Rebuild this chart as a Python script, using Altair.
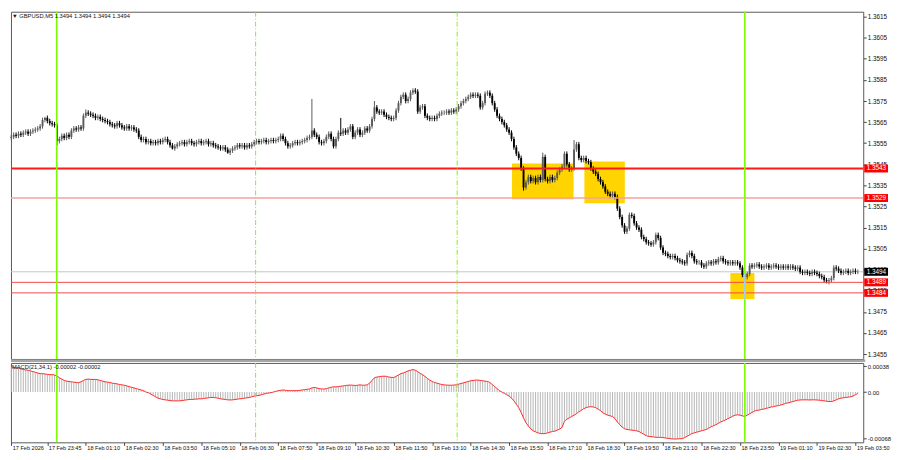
import altair as alt
import pandas as pd

FONT = "Liberation Sans"

# ---------------- data ----------------
# close of every 5-minute bar, in pips above 1.3400
close_pips = [
    158, 159, 158.5, 159.5, 159, 160, 160.5, 159.5, 160.5, 161,
    161.5, 162, 163, 166, 167, 165.5, 164.5, 164, 163.5, 156,
    157, 158.5, 157.5, 159, 158, 161, 162, 161.5, 162.5, 162,
    168, 169.5, 169, 168.5, 168, 167, 167.5, 166.5, 166, 165.5,
    165, 164, 163.5, 163, 164.5, 163.5, 162.5, 162, 163, 162,
    162.5, 161.5, 161, 158, 156.5, 157, 155.5, 156, 155, 155.5,
    155, 156, 155.5, 156.5, 157, 155.5, 154, 152.5, 153.5, 154.5,
    155, 155.5, 154.5, 155.5, 156, 155, 154.5, 155.5, 156, 155,
    155.5, 156, 154.5, 155, 154, 153.5, 153, 152.5, 153, 152,
    150.5, 151.5, 152.5, 153, 154, 153.5, 154, 153, 154, 153.5,
    154.5, 155.5, 156, 155.5, 156, 156.5, 155.5, 156, 156.5, 156,
    156.5, 157, 158.5, 157, 155, 153.5, 154, 155, 155.5, 155,
    155.5, 156, 156.5, 157.5, 158, 161, 159, 158, 155.5, 155,
    156, 158, 159.5, 157, 153.5, 157, 160, 159.5, 161, 160,
    161.5, 163, 158, 160, 161.5, 159, 160, 162, 161, 163,
    166.5, 172, 170, 169.5, 170, 168.5, 167.5, 167, 166.5, 167,
    170.5, 174, 177, 178, 175, 176, 179, 180, 179.5, 170,
    172, 172.5, 168, 167, 166.5, 167, 166.5, 168, 169, 169.5,
    169.5, 170, 169.5, 170.5, 170, 171, 172.5, 174, 175, 176,
    177, 178, 177.5, 178, 177.5, 172, 174, 178.5, 179, 177.5,
    174, 171, 168, 166.5, 165, 163.5, 161.5, 160, 157, 153,
    150, 148, 143, 134, 136.5, 139, 137, 138.5, 136.5, 139,
    137.5, 148.5, 138, 137, 139, 137.5, 138.5, 141, 142.5, 144,
    150, 145, 142.5, 143, 152, 154.5, 148, 147, 148, 146.5,
    146, 143, 141.5, 140.5, 138, 136.5, 134.5, 132, 131, 130,
    131, 129.5, 124, 120, 116, 113, 114.5, 121, 120.5, 117,
    115, 114, 110.5, 109.5, 108, 107.5, 107, 108, 111.5, 110,
    105.5, 103, 102.5, 101.5, 101, 101.5, 100.5, 99.5, 99, 98.5,
    98, 102, 103, 101.5, 99, 98.5, 98.5, 97, 96.5, 98,
    98.5, 98, 99, 98.5, 100, 100.5, 99, 98.5, 98, 98.5,
    98, 98.5, 98, 96, 92.5, 91.5, 93, 97, 96.5, 97,
    97.5, 96.5, 96, 96.5, 97, 96, 96.5, 97, 96.5, 96,
    96.5, 96, 96.5, 96, 96.5, 96, 95.5, 96, 94, 93.5,
    94, 93.5, 93, 94, 93.5, 93, 92, 91.5, 90, 89.5,
    90, 91, 96, 95.5, 94.5, 93.5, 94, 94.5, 93.5, 94,
    94.5, 94, 94,
]
open_first_pip = 157.5
wick_pip = 1.1
high_pips = {14: 167.5, 31: 171.0, 125: 176.0, 137: 167.0, 151: 175.0, 162: 178.0,
             167: 181.0, 198: 180.0, 221: 150.5, 234: 156.5}
low_pips = {19: 154.0, 67: 152.0, 90: 150.0, 134: 152.5, 213: 132.5, 255: 112.0,
            305: 89.4, 339: 88.5, 340: 88.0}

# MACD(21,34,1) value of every bar, in units of 1e-5
macd_e5 = [
    37, 36, 35.5, 35, 34, 33, 32.5, 32, 31, 30,
    29, 28, 27, 27, 26.5, 26, 25.5, 25.5, 25, 23.5,
    21, 19, 17, 16, 15.5, 15, 14.5, 14, 13.6, 15,
    17, 18.5, 19, 18.5, 18.5, 18.5, 18, 17, 16, 15,
    14.5, 14, 13, 12.5, 12, 11, 10.5, 10, 9, 8,
    7, 6, 5, 4, 3, 2, 0, -1, -3, -5,
    -7, -9, -10, -11, -11.5, -12, -12.5, -13, -13, -13,
    -13, -12.5, -12, -11.5, -11, -11, -10.5, -10.5, -10, -10,
    -9.5, -9, -8.5, -8, -8, -8.5, -9, -10, -10.5, -11,
    -11.5, -11.7, -11.5, -11, -10.5, -10, -9.5, -9, -8.5, -8,
    -7, -6, -5.5, -5, -4, -3, -2, -1.5, -1, 0,
    1, 2, 2.5, 3, 2.5, 2, 2, 2, 2, 2,
    2.5, 3, 3.5, 4, 4.5, 6, 6.7, 6, 5, 4.5,
    4.4, 5, 6, 7, 7.7, 7.5, 8, 8.5, 9, 9.5,
    10, 10.2, 10, 9.5, 10, 10.5, 10, 10, 10.5, 13,
    17, 21, 22, 22.5, 23, 23.3, 23, 22, 21.5, 21.3,
    23, 25, 27, 28, 29.5, 31, 32, 33, 32, 30,
    27.5, 25.5, 23, 20, 17.5, 15.5, 14, 13, 12, 11,
    10.5, 10.2, 10, 10, 10.2, 10.5, 11.5, 12.5, 13.5, 14.5,
    15.5, 16.5, 17, 17.5, 17.5, 17, 16.5, 16, 15.5, 14,
    11, 8, 5, 2, 0, -2, -4, -6, -9, -13,
    -18, -23, -30, -38, -45, -50, -54, -57, -58.5, -60,
    -61, -61.2, -61, -60, -59, -58, -57.5, -56, -54.5, -52,
    -43, -40, -38, -36, -34, -32, -29, -27, -24.5, -23,
    -22, -21.5, -22, -23, -25, -27.5, -30.5, -32.5, -34, -35,
    -36, -39, -44, -48, -51.5, -54, -55, -55.5, -56, -56.5,
    -57, -58, -60, -62, -64, -65.2, -65.5, -66, -66.5, -66.5,
    -66.6, -67, -67.5, -68, -68.5, -69, -69, -69, -68.5, -68.5,
    -67, -65, -63, -61, -60, -59, -58, -57, -56, -55,
    -53, -51, -49.5, -48, -46, -44, -42.5, -41, -39, -37.5,
    -35.5, -34, -33.5, -34, -35, -36, -34, -32, -30, -28,
    -27, -26.5, -25.5, -25, -24, -23, -22, -21.5, -20.5, -20,
    -19, -18, -16.5, -16, -15, -14, -13, -12, -11.7, -11.5,
    -11.5, -11.5, -11.7, -11.5, -11.5, -11.7, -12, -12.5, -13, -13.5,
    -14, -14, -13, -11.5, -10, -9, -8.5, -8, -7.5, -7,
    -6, -4, -2,
]

time_ticks = [0, 15, 31, 47, 63, 79, 95, 111, 127, 143, 159, 175, 191, 207, 223,
              239, 255, 271, 287, 303, 319, 335, 351]
time_labels = ["17 Feb 2026", "17 Feb 23:45", "18 Feb 01:10", "18 Feb 02:30", "18 Feb 03:50",
               "18 Feb 05:10", "18 Feb 06:30", "18 Feb 07:50", "18 Feb 09:10", "18 Feb 10:30",
               "18 Feb 11:50", "18 Feb 13:10", "18 Feb 14:30", "18 Feb 15:50", "18 Feb 17:10",
               "18 Feb 18:30", "18 Feb 19:50", "18 Feb 21:10", "18 Feb 22:30", "18 Feb 23:50",
               "19 Feb 01:10", "19 Feb 02:30", "19 Feb 03:50"]

price_ticks = [1.3455, 1.3465, 1.3475, 1.3485, 1.3495, 1.3505, 1.3515, 1.3525, 1.3535,
               1.3545, 1.3555, 1.3565, 1.3575, 1.3585, 1.3595, 1.3605, 1.3615]
macd_ticks = [0.00038, 0.0, -0.00068]
macd_tick_labels = ["0.00038", "0.00", "-0.00068"]

levels = [1.3543, 1.3529, 1.3489, 1.3484]
level_colors = ["#ff1a1a", "#f7a0a0", "#ef4a4a", "#ef4a4a"]
level_widths = [2.0, 1.6, 1.0, 1.0]
bid_price = 1.3494

tag_prices = [1.3543, 1.3529, 1.3494, 1.3489, 1.3484]
tag_colors = ["#ff0000", "#ff0000", "#000000", "#ff0000", "#ff0000"]

vline_solid = [18.9, 305.0]
vline_dash = [101.6, 185.4]

box_x1 = [208.2, 238.3, 299.0]
box_x2 = [233.8, 255.1, 309.0]
box_p1 = [1.35284, 1.35265, 1.34811]
box_p2 = [1.35454, 1.35463, 1.34934]

title_text = "\u25bc GBPUSD,M5  1.3494 1.3494 1.3494 1.3494"
macd_text = "MACD(21,34,1) -0.00002 -0.00002"

# ---------------- tables ----------------
rows = []
prev = open_first_pip
for i, c in enumerate(close_pips):
    o = prev
    hi = max(high_pips.get(i, max(o, c) + wick_pip), max(o, c))
    lo = min(low_pips.get(i, min(o, c) - wick_pip), min(o, c))
    rows.append({"i": i, "open": 1.34 + o / 10000, "close": 1.34 + c / 10000,
                 "high": 1.34 + hi / 10000, "low": 1.34 + lo / 10000,
                 "dir": "up" if c >= o else "down"})
    prev = c
cdf = pd.DataFrame(rows)

n = min(len(macd_e5), len(close_pips))
mdf = pd.DataFrame({"i": list(range(n)), "macd": [v * 1e-5 for v in macd_e5[:n]], "zero": [0.0] * n})

lvl_df = pd.DataFrame({"price": levels, "col": level_colors, "w": level_widths})
bid_df = pd.DataFrame({"price": [bid_price]})
tag_df = pd.DataFrame({"price": tag_prices, "col": tag_colors,
                       "label": [f"{p:.4f}" for p in tag_prices]})
vs_df = pd.DataFrame({"i": vline_solid})
vd_df = pd.DataFrame({"i": vline_dash})
box_df = pd.DataFrame({"x1": box_x1, "x2": box_x2, "p1": box_p1, "p2": box_p2})
inbox_df = pd.DataFrame({"i": [vline_solid[1]], "p1": [box_p1[2]], "p2": [box_p2[2]]})

# ---------------- scales / axes ----------------
W = 859
H_MAIN = 350
H_MACD = 80
xs = alt.Scale(domain=[-0.122, 354.24], nice=False, zero=False, padding=0)
ps = alt.Scale(domain=[1.345265, 1.361735], nice=False, zero=False, padding=0)
ms = alt.Scale(domain=[-0.000739, 0.000427], nice=False, zero=False, padding=0)

y_axis = alt.Axis(orient="right", values=price_ticks, format=".4f", title=None,
                  labelFont=FONT, labelFontSize=6.4, labelColor="#111", tickSize=3,
                  tickColor="#444", labelPadding=1, domain=False, grid=False,
                  labelOverlap=False, labelFlush=False)

ticks_js = "[" + ",".join(str(t) for t in time_ticks) + "]"
labels_js = "[" + ",".join("'" + s + "'" for s in time_labels) + "]"
x_axis = alt.Axis(values=time_ticks, labelExpr=f"{labels_js}[indexof({ticks_js}, datum.value)]",
                  title=None, labelFont=FONT, labelFontSize=5.6, labelColor="#111",
                  labelAlign="left", labelBaseline="top", labelOffset=1, labelPadding=0,
                  tickSize=3, tickColor="#444", domain=False, grid=False,
                  labelOverlap=False, labelFlush=False, labelBound=False)

mt_js = "[" + ",".join(repr(t) for t in macd_ticks) + "]"
ml_js = "[" + ",".join("'" + s + "'" for s in macd_tick_labels) + "]"
m_axis = alt.Axis(orient="right", values=macd_ticks,
                  labelExpr=f"{ml_js}[indexof({mt_js}, datum.value)]", title=None,
                  labelFont=FONT, labelFontSize=6.0, labelColor="#111", tickSize=3,
                  tickColor="#444", labelPadding=1, domain=False, grid=False,
                  labelOverlap=False, labelFlush=False)


def XP(f="i"):
    return alt.X(f"{f}:Q", scale=xs, axis=None)


def YP(f="price"):
    return alt.Y(f"{f}:Q", scale=ps, axis=y_axis)


# ---------------- main price panel ----------------
boxes = alt.Chart(box_df).mark_rect(color="#ffd400", opacity=1).encode(
    x=XP("x1"), x2="x2:Q", y=YP("p1"), y2="p2:Q")

bid = alt.Chart(bid_df).mark_rule(color="#c4c4c4", strokeWidth=1).encode(y=YP())

wicks = alt.Chart(cdf).mark_rule(strokeWidth=1).encode(
    x=XP(), y=YP("low"), y2="high:Q",
    color=alt.Color("dir:N", scale=alt.Scale(domain=["up", "down"], range=["#5a5a5a", "#000000"]),
                    legend=None))
bodies = alt.Chart(cdf).mark_bar(size=1.9).encode(
    x=XP(), y=YP("open"), y2="close:Q",
    color=alt.Color("dir:N", scale=alt.Scale(domain=["up", "down"], range=["#8a8a8a", "#000000"]),
                    legend=None))

lvl = alt.Chart(lvl_df).mark_rule().encode(
    y=YP(), color=alt.Color("col:N", scale=None), strokeWidth=alt.StrokeWidth("w:Q", scale=None))

vsol = alt.Chart(vs_df).mark_rule(color="#7cfc00", strokeWidth=1.6).encode(x=XP())
vdash = alt.Chart(vd_df).mark_rule(color="#7cfc00", strokeWidth=1, strokeDash=[5, 2, 1, 2]).encode(x=XP())
inbox = alt.Chart(inbox_df).mark_rule(color="#9cd2f2", strokeWidth=1.6).encode(
    x=XP(), y=YP("p1"), y2="p2:Q")

tags = alt.Chart(tag_df).mark_tick(orient="horizontal", size=24, thickness=8, opacity=1).encode(
    x=alt.value(W + 13), y=YP(), color=alt.Color("col:N", scale=None))
tag_txt = alt.Chart(tag_df).mark_text(align="left", baseline="middle", font=FONT, fontSize=6.4,
                                      color="white").encode(
    x=alt.value(W + 3.5), y=YP(), text="label:N")

title = alt.Chart(pd.DataFrame({"t": [title_text]})).mark_text(
    align="left", baseline="top", font=FONT, fontSize=5.8, color="#111").encode(
    x=alt.value(1), y=alt.value(1), text="t:N")

main = alt.layer(boxes, bid, wicks, bodies, lvl, vsol, vdash, inbox, tags, tag_txt, title).properties(
    width=W, height=H_MAIN)

# ---------------- MACD panel ----------------
def XM(f="i"):
    return alt.X(f"{f}:Q", scale=xs, axis=x_axis)


def YM(f="macd"):
    return alt.Y(f"{f}:Q", scale=ms, axis=m_axis)


hist = alt.Chart(mdf).mark_rule(color="#b6b6b6", strokeWidth=1).encode(x=XM(), y=YM(), y2="zero:Q")
mline = alt.Chart(mdf).mark_line(color="#ff2a2a", strokeWidth=1).encode(x=XM(), y=YM())
vsol_m = alt.Chart(vs_df).mark_rule(color="#7cfc00", strokeWidth=1.6).encode(x=XM())
vdash_m = alt.Chart(vd_df).mark_rule(color="#7cfc00", strokeWidth=1, strokeDash=[5, 2, 1, 2]).encode(x=XM())
sep = alt.Chart(pd.DataFrame({"k": [0]})).mark_rule(color="#a6a6a6", strokeWidth=2.4).encode(
    x=alt.value(0), x2=alt.value(W + 2), y=alt.value(-2.2))
mtxt = alt.Chart(pd.DataFrame({"t": [macd_text]})).mark_text(
    align="left", baseline="middle", font=FONT, fontSize=5.8, color="#111").encode(
    x=alt.value(1), y=alt.value(4), text="t:N")

macd = alt.layer(hist, mline, vsol_m, vdash_m, sep, mtxt).properties(width=W, height=H_MACD)

chart = alt.vconcat(main, macd, spacing=4, bounds="flush").properties(
    padding=0, background="white"
).configure(padding=0).configure_view(stroke="#5a5a5a", strokeWidth=1)

chart.save("out.html", embed_options={"renderer": "svg", "actions": False})
